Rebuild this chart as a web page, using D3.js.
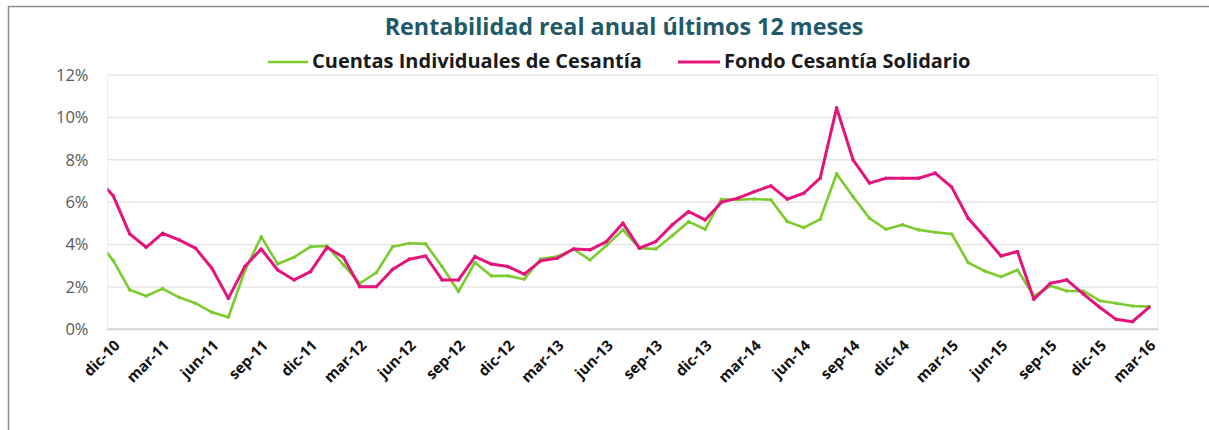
<!DOCTYPE html>
<html lang="es">
<head>
    <meta charset="UTF-8">
    <title>Rentabilidad real anual</title>
    <script src="https://d3js.org/d3.v7.min.js"></script>
    <style>
        body { margin: 0; background: #fff; }
        svg { display: block; }
    </style>
</head>
<body>
<script>
    const width = 1209;
    const height = 430;

    // meses (nov-10 queda recortado por el borde izquierdo del área de gráfico)
    const months = ["nov-10","dic-10",
        "ene-11","feb-11","mar-11","abr-11","may-11","jun-11","jul-11","ago-11","sep-11","oct-11","nov-11","dic-11",
        "ene-12","feb-12","mar-12","abr-12","may-12","jun-12","jul-12","ago-12","sep-12","oct-12","nov-12","dic-12",
        "ene-13","feb-13","mar-13","abr-13","may-13","jun-13","jul-13","ago-13","sep-13","oct-13","nov-13","dic-13",
        "ene-14","feb-14","mar-14","abr-14","may-14","jun-14","jul-14","ago-14","sep-14","oct-14","nov-14","dic-14",
        "ene-15","feb-15","mar-15","abr-15","may-15","jun-15","jul-15","ago-15","sep-15","oct-15","nov-15","dic-15",
        "ene-16","feb-16","mar-16"];

    // Cuentas Individuales de Cesantía (%)
    const cic = [4.25, 3.24,
        1.86, 1.57, 1.92, 1.51, 1.23, 0.80, 0.57, 2.75, 4.37, 3.08, 3.40, 3.90,
        3.93, 3.04, 2.17, 2.67, 3.90, 4.06, 4.03, 2.96, 1.78, 3.15, 2.52, 2.52,
        2.36, 3.32, 3.43, 3.79, 3.27, 3.95, 4.69, 3.83, 3.79, 4.41, 5.08, 4.72,
        6.14, 6.11, 6.15, 6.11, 5.08, 4.80, 5.19, 7.34, 6.26, 5.24, 4.72, 4.93,
        4.69, 4.58, 4.50, 3.15, 2.75, 2.48, 2.80, 1.57, 2.05, 1.81, 1.81, 1.35,
        1.23, 1.10, 1.07];

    // Fondo Cesantía Solidario (%)
    const fcs = [7.15, 6.30,
        4.50, 3.87, 4.53, 4.22, 3.83, 2.88, 1.46, 2.96, 3.79, 2.80, 2.33, 2.72,
        3.87, 3.40, 2.01, 2.01, 2.83, 3.31, 3.46, 2.33, 2.33, 3.43, 3.08, 2.96,
        2.60, 3.23, 3.35, 3.79, 3.75, 4.14, 5.01, 3.83, 4.14, 4.93, 5.56, 5.16,
        6.00, 6.19, 6.50, 6.77, 6.14, 6.42, 7.13, 10.45, 8.00, 6.90, 7.13, 7.13,
        7.13, 7.37, 6.71, 5.24, 4.37, 3.46, 3.67, 1.42, 2.17, 2.33, 1.67, 1.04,
        0.47, 0.36, 1.04];

    const xLabels = ["dic-10","mar-11","jun-11","sep-11","dic-11","mar-12","jun-12","sep-12",
        "dic-12","mar-13","jun-13","sep-13","dic-13","mar-14","jun-14","sep-14",
        "dic-14","mar-15","jun-15","sep-15","dic-15","mar-16"];
    const yTicks = [0, 2, 4, 6, 8, 10, 12];

    const series = [
        {name: "Cuentas Individuales de Cesantía", values: cic, color: "#7ccb2e", width: 2.6},
        {name: "Fondo Cesantía Solidario", values: fcs, color: "#e5147d", width: 3}
    ];

    const font = "'Open Sans', sans-serif";
    const plot = {left: 107.5, right: 1158, top: 75, bottom: 329.3};

    const svg = d3.select("body").append("svg")
            .attr("width", width).attr("height", height);

    // el eje empieza a mitad de nov-10, como en el original
    const x = d3.scaleLinear()
            .domain([0.65, months.length - 0.45])
            .range([plot.left, plot.right]);

    const y = d3.scaleLinear()
            .domain([0, 12])
            .range([plot.bottom, plot.top]);

    svg.append("defs").append("clipPath").attr("id", "plotclip")
            .append("rect")
            .attr("x", plot.left).attr("y", plot.top - 10)
            .attr("width", plot.right - plot.left).attr("height", plot.bottom - plot.top + 20);

    drawFrame();
    drawAxes();
    drawLines();
    drawLegend();

    function drawFrame() {
        svg.append("path")
                .attr("d", "M8.5," + height + "V6.5H" + width)
                .style("fill", "none")
                .style("stroke", "#8c8c8c")
                .style("stroke-width", 1.5);

        svg.append("text")
                .attr("x", 624).attr("y", 35)
                .attr("text-anchor", "middle")
                .style("font-family", font)
                .style("font-weight", "bold")
                .style("font-size", "23.3px")
                .style("fill", "#215968")
                .text("Rentabilidad real anual últimos 12 meses");
    }

    function drawAxes() {
        // gridlines
        svg.append("g").attr("class", "grid")
                .selectAll("line")
                .data(yTicks.slice(1))
                .enter().append("line")
                .attr("x1", plot.left).attr("x2", plot.right)
                .attr("y1", d => y(d)).attr("y2", d => y(d))
                .style("stroke", "#e6e6e6")
                .style("stroke-width", 1.5);

        // borde del área de gráfico
        svg.append("rect")
                .attr("x", plot.left).attr("y", plot.top)
                .attr("width", plot.right - plot.left).attr("height", plot.bottom - plot.top)
                .style("fill", "none")
                .style("stroke", "#f0f0f0")
                .style("stroke-width", 1);

        const yAxis = svg.append("g")
                .attr("transform", "translate(" + plot.left + ",0)")
                .call(d3.axisLeft(y).tickValues(yTicks).tickFormat(d => d + "%").tickSize(0).tickPadding(19));
        yAxis.select(".domain").remove();
        yAxis.selectAll("text")
                .style("font-family", font)
                .style("font-size", "16.5px")
                .style("fill", "#595959");

        // eje horizontal
        svg.append("line")
                .attr("x1", plot.left).attr("x2", plot.right)
                .attr("y1", y(0)).attr("y2", y(0))
                .style("stroke", "#d4d4d4")
                .style("stroke-width", 2);

        const xAxis = svg.append("g")
                .attr("transform", "translate(0," + plot.bottom + ")")
                .call(d3.axisBottom(x)
                        .tickValues(xLabels.map(l => months.indexOf(l)))
                        .tickFormat(i => months[i])
                        .tickSize(0));
        xAxis.select(".domain").remove();
        xAxis.selectAll("text")
                .attr("text-anchor", "end")
                .attr("dy", 0)
                .attr("transform", "translate(5,15) rotate(-45)")
                .style("font-family", font)
                .style("font-weight", "bold")
                .style("font-size", "15px")
                .style("fill", "#111");
    }

    function drawLines() {
        const line = d3.line()
                .x((d, i) => x(i))
                .y(d => y(d));

        const g = svg.append("g").attr("clip-path", "url(#plotclip)");

        series.forEach(function(s) {
            g.append("path")
                    .datum(s.values)
                    .attr("d", line)
                    .style("fill", "none")
                    .style("stroke", s.color)
                    .style("stroke-width", s.width)
                    .style("stroke-linejoin", "round");

            g.selectAll(null)
                    .data(s.values)
                    .enter().append("circle")
                    .attr("cx", (d, i) => x(i))
                    .attr("cy", d => y(d))
                    .attr("r", 1.8)
                    .style("fill", s.color);
        });
    }

    function drawLegend() {
        const items = [
            {x1: 268, x2: 308, tx: 312},
            {x1: 678, x2: 720, tx: 724}
        ];
        const lg = svg.append("g").attr("class", "legend");
        series.forEach(function(s, i) {
            const it = items[i];
            lg.append("line")
                    .attr("x1", it.x1).attr("x2", it.x2)
                    .attr("y1", 62).attr("y2", 62)
                    .style("stroke", s.color)
                    .style("stroke-width", s.width);
            lg.append("text")
                    .attr("x", it.tx).attr("y", 68)
                    .style("font-family", font)
                    .style("font-weight", "bold")
                    .style("font-size", "20px")
                    .style("fill", "#1a1a1a")
                    .text(s.name);
        });
    }
</script>

</body>
</html>
